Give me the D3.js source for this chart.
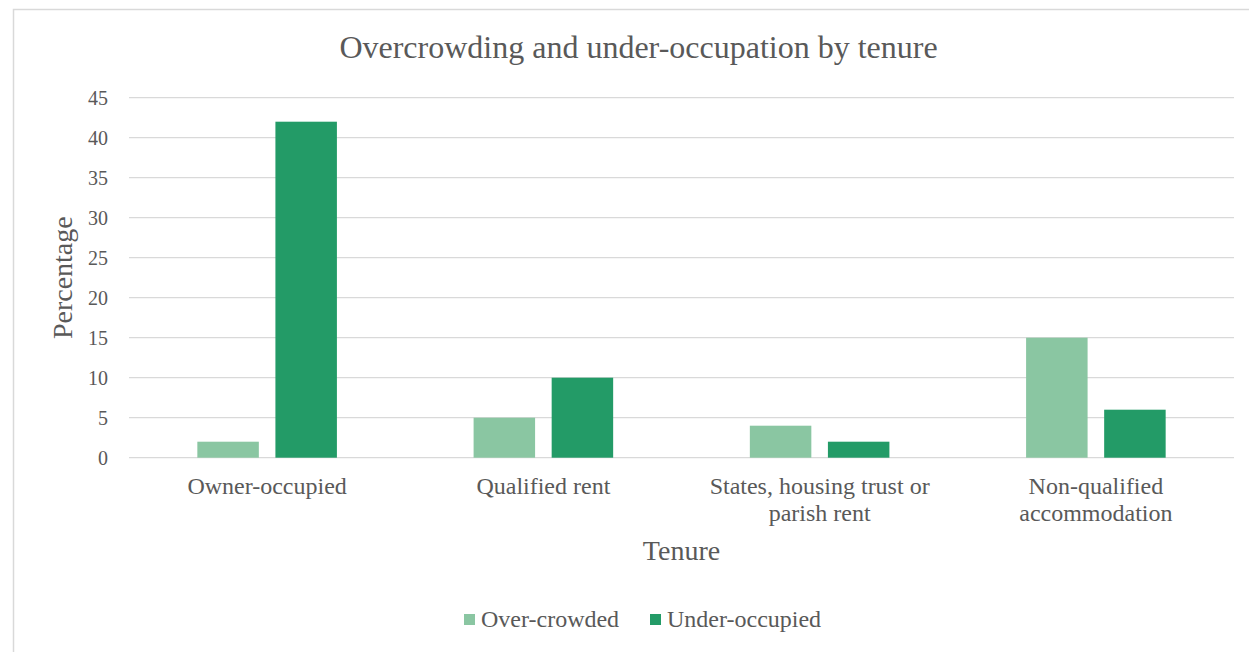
<!DOCTYPE html>
<html>
<head>
<meta charset="utf-8">
<script src="https://cdn.jsdelivr.net/npm/d3@7"></script>
<style>
  html, body { margin: 0; padding: 0; background: #fff; }
  svg { display: block; }
  text { font-family: "Liberation Serif", "Times New Roman", serif; fill: #595959; }
</style>
</head>
<body>
<svg id="chart" width="1249" height="652"></svg>
<script>
// Tenure categories (label lines) and the two series
const categories = [
  ["Owner-occupied"],
  ["Qualified rent"],
  ["States, housing trust or", "parish rent"],
  ["Non-qualified", "accommodation"]
];
const seriesNames = ["Over-crowded", "Under-occupied"];
const overCrowded = [2, 5, 4, 15];
const underOccupied = [42, 10, 2, 6];
const yTicks = [0, 5, 10, 15, 20, 25, 30, 35, 40, 45];
const colors = ["#8AC6A2", "#239B67"];

const svg = d3.select("#chart");
const W = 1249, H = 652;

// outer chart frame
svg.append("rect")
  .attr("x", 13.5).attr("y", 9.5)
  .attr("width", W).attr("height", H)
  .attr("fill", "#fff").attr("stroke", "#d9d9d9").attr("stroke-width", 1.5);

const plot = { left: 129, right: 1234, top: 97.7, bottom: 457.7 };

const keys = categories.map((c, i) => i);
const x = d3.scaleBand().domain(keys).range([plot.left, plot.right]).padding(0);
const y = d3.scaleLinear().domain([0, 45]).range([plot.bottom, plot.top]);

// gridlines
svg.append("g").selectAll("line").data(yTicks).join("line")
  .attr("x1", plot.left).attr("x2", plot.right)
  .attr("y1", d => y(d)).attr("y2", d => y(d))
  .attr("stroke", "#d9d9d9").attr("stroke-width", 1.3);

// y tick labels
svg.append("g").selectAll("text").data(yTicks).join("text")
  .attr("x", 108).attr("y", d => y(d))
  .attr("dy", "0.35em")
  .attr("text-anchor", "end")
  .attr("font-size", 20)
  .text(d => d);

// grouped bars
const bandW = x.bandwidth();
const barW = bandW * 0.2226;
const gap = bandW * 0.06;
const series = [overCrowded, underOccupied];
series.forEach((vals, s) => {
  svg.append("g").selectAll("rect").data(vals).join("rect")
    .attr("x", (d, i) => x(i) + bandW / 2 - gap / 2 - barW + s * (barW + gap))
    .attr("y", d => y(d))
    .attr("width", barW)
    .attr("height", d => y(0) - y(d))
    .attr("fill", colors[s]);
});

// category labels
const catG = svg.append("g");
categories.forEach((lines, i) => {
  const t = catG.append("text")
    .attr("x", x(i) + bandW / 2)
    .attr("y", 494)
    .attr("text-anchor", "middle")
    .attr("font-size", 24);
  lines.forEach((ln, j) => {
    t.append("tspan").attr("x", x(i) + bandW / 2).attr("dy", j === 0 ? 0 : 27).text(ln);
  });
});

// title
svg.append("text")
  .attr("x", 638.5).attr("y", 58)
  .attr("text-anchor", "middle").attr("font-size", 32)
  .text("Overcrowding and under-occupation by tenure");

// axis titles
svg.append("text")
  .attr("x", (plot.left + plot.right) / 2).attr("y", 560)
  .attr("text-anchor", "middle").attr("font-size", 28)
  .text("Tenure");
svg.append("text")
  .attr("transform", `translate(72, ${(plot.top + plot.bottom) / 2}) rotate(-90)`)
  .attr("text-anchor", "middle").attr("font-size", 28)
  .text("Percentage");

// legend
const legend = svg.append("g");
const legendItems = [{ x: 464, name: seriesNames[0] }, { x: 650, name: seriesNames[1] }];
legendItems.forEach((it, i) => {
  legend.append("rect").attr("x", it.x).attr("y", 614).attr("width", 11).attr("height", 11).attr("fill", colors[i]);
  legend.append("text").attr("x", it.x + 17).attr("y", 627).attr("font-size", 24).text(it.name);
});
</script>
</body>
</html>
